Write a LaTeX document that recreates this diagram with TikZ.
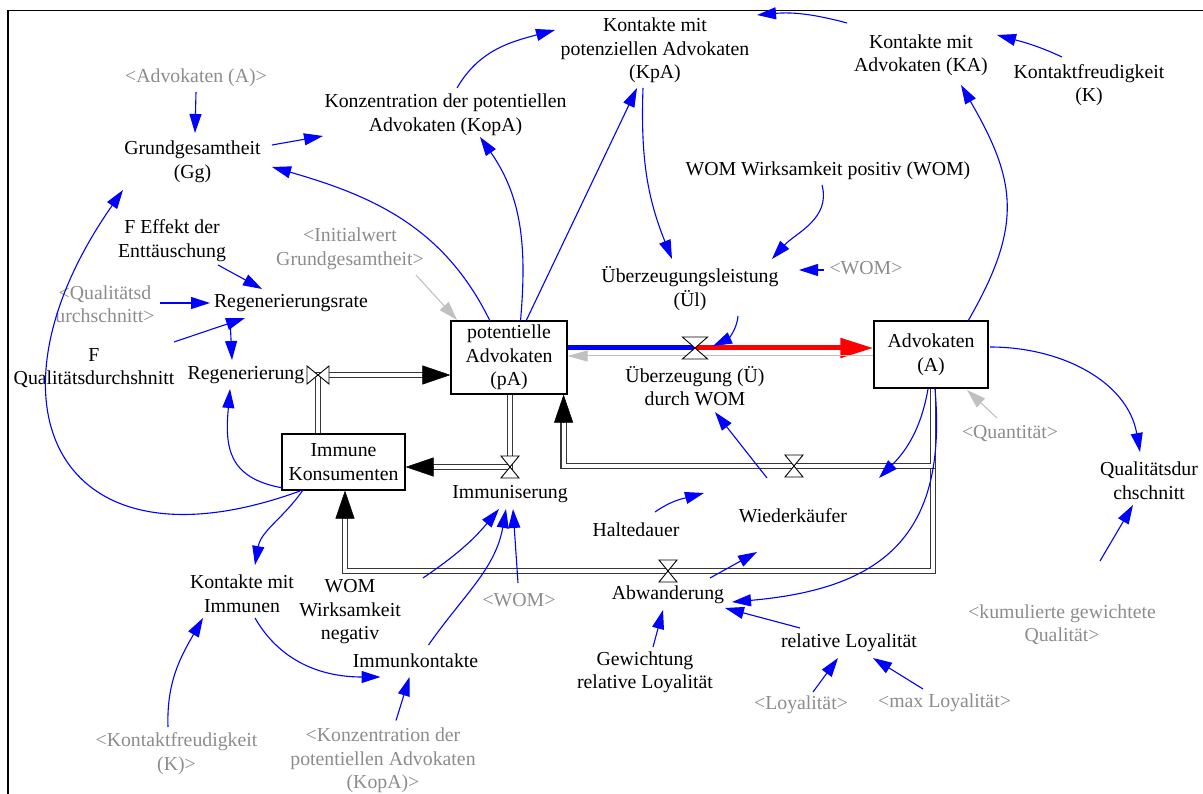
\documentclass[tikz,border=0pt]{standalone}
\usepackage{fontspec}
\setmainfont{Liberation Serif}
\usetikzlibrary{arrows.meta,calc}
\definecolor{infoblue}{RGB}{0,0,255}
\definecolor{shadowtxt}{RGB}{140,140,140}
\definecolor{shadowline}{RGB}{192,192,192}
\definecolor{pipegray}{RGB}{55,55,55}

\begin{document}
\begin{tikzpicture}[x=1pt,y=1pt,
 lbl/.style={align=center,inner sep=0pt,font=\fontsize{19.8}{23.5}\selectfont},
 shd/.style={lbl,text=shadowtxt},
 stock/.style={lbl,draw,line width=1.2pt,fill=white},
 info/.style={infoblue,line width=1.1pt,-{Triangle[length=19pt,width=12pt]}},
 ginfo/.style={shadowline,line width=1.1pt,-{Triangle[length=19pt,width=12pt]}},
 pipe/.style={draw=pipegray,line width=1.3pt,double=white,double distance=3.8pt},
 pipetip/.style={line width=0.5pt,-{Triangle[length=28pt,width=19pt]}},
 valve/.pic={\draw[fill=white,line width=0.9pt] (-9,11) -- (9,11) -- (0,0) -- cycle
   (-9,-11) -- (9,-11) -- (0,0) -- cycle;}]

\useasboundingbox (0,0) rectangle (1203,-794);
\draw[line width=1.3pt] (8,-794) -- (8,-10.5) -- (1203,-10.5);

% stocks
\node[stock,minimum width=116pt,minimum height=73pt] (pA) at (509,-357.5) {potentielle\\Advokaten\\(pA)};
\node[stock,minimum width=114pt,minimum height=67pt] (A) at (931,-354.5) {Advokaten\\(A)};
\node[stock,minimum width=123pt,minimum height=56pt] (IK) at (343.5,-462) {Immune\\Konsumenten};

% valves
\coordinate (vue) at (695,-348);
\coordinate (vim) at (510,-467);
\coordinate (vwk) at (794,-466);
\coordinate (vabw) at (668,-571);
\coordinate (vreg) at (318,-375);
\coordinate (aout) at ($(A.south)+(2,0)$);
\coordinate (kret) at ($(pA.south east)+(-4,0)$);
\coordinate (iret) at ($(IK.south)+(1.5,0)$);

% flows
\draw[pipe] (vreg |- IK.north) -- (vreg) -- ($(vreg -| pA.west)+(-27,0)$);
\draw[pipetip] ($(vreg -| pA.west)+(-28,0)$) -- (vreg -| pA.west);
\draw[pipe] (vim |- pA.south) -- (vim) -- ($(vim -| IK.east)+(27,0)$);
\draw[pipetip] ($(vim -| IK.east)+(28,0)$) -- (vim -| IK.east);
\draw[pipe] (aout) |- (vabw) -| ($(iret)+(0,-27)$);
\draw[pipetip] ($(iret)+(0,-28)$) -- (iret);
\draw[pipe] (aout) |- (vwk) -| ($(kret)+(0,-27)$);
\draw[pipetip] ($(kret)+(0,-28)$) -- (kret);
\draw[line width=5pt,infoblue] ($(pA.east)+(0,9.5)$) -- (vue);
\draw[line width=5pt,red,-{Triangle[length=33pt,width=19pt]}] (vue) -- ($(A.west)+(0,6.5)$);
\draw[shadowline,line width=1pt,-{Triangle[length=20pt,width=11pt]}] ($(A.west)+(0,-1.5)$) -- ($(pA.east)+(0,1.5)$);

\pic[xscale=1.4] at (vue) {valve};
\pic at (vim) {valve};
\pic at (vwk) {valve};
\pic at (vabw) {valve};
\pic[rotate=90] at (vreg) {valve};

% variables
\node[shd] (advA) at (196,-78) {<Advokaten (A)>};
\node[lbl] (gg) at (192.5,-162) {Grundgesamtheit\\(Gg)};
\node[lbl] (kopa) at (445.5,-114.5) {Konzentration der potentiellen\\Advokaten (KopA)};
\node[lbl] (kpa) at (655,-50.5) {Kontakte mit\\potenziellen Advokaten\\(KpA)};
\node[lbl] (ka) at (921,-55) {Kontakte mit\\Advokaten (KA)};
\node[lbl] (kf) at (1089,-85) {Kontaktfreudigkeit\\(K)};
\node[lbl] (womp) at (828,-171) {WOM Wirksamkeit positiv (WOM)};
\node[lbl] (effekt) at (172,-240.5) {F Effekt der\\Enttäuschung};
\node[shd] (initgg) at (350,-249) {<Initialwert\\Grundgesamtheit>};
\node[lbl] (uel) at (690,-288.5) {Überzeugungsleistung\\(Ül)};
\node[shd] (womg1) at (866,-268) {<WOM>};
\node[shd] (qds) at (105,-304) {<Qualitätsd\\urchschnitt>};
\node[lbl] (regrate) at (291,-303) {Regenerierungsrate};
\node[lbl] (fqd) at (94,-368) {F\\Qualitätsdurchshnitt};
\node[lbl] (regen) at (246,-375) {Regenerierung};
\node[lbl] (ue) at (695,-386) {Überzeugung (Ü)\\durch WOM};
\node[shd] (quant) at (1010,-434) {<Quantität>};
\node[lbl] (immun) at (510,-494) {Immuniserung};
\node[lbl] (qd) at (1149,-480.5) {Qualitätsdur\\chschnitt};
\node[lbl] (wk) at (793,-516) {Wiederkäufer};
\node[lbl] (halte) at (636,-530) {Haltedauer};
\node[lbl] (abw) at (668,-595) {Abwanderung};
\node[lbl] (kmi) at (242,-593.5) {Kontakte mit\\Immunen};
\node[lbl] (womneg) at (350,-612) {WOM\\Wirksamkeit\\negativ};
\node[shd] (womg2) at (519,-600) {<WOM>};
\node[shd] (kum) at (1062,-624.5) {<kumulierte gewichtete\\Qualität>};
\node[lbl] (relloy) at (849,-643) {relative Loyalität};
\node[lbl] (ikont) at (415.5,-661) {Immunkontakte};
\node[lbl] (gew) at (645,-672.5) {Gewichtung\\relative Loyalität};
\node[shd] (loy) at (801,-705) {<Loyalität>};
\node[shd] (maxloy) at (944.5,-703) {<max Loyalität>};
\node[shd] (kfg) at (176.5,-753.5) {<Kontaktfreudigkeit\\(K)>};
\node[shd] (kopag) at (383,-760.5) {<Konzentration der\\potentiellen Advokaten\\(KopA)>};

% links, upper part
\draw[info] ([shift={(0,-14)}]advA.center) -- ([shift={(2.5,29)}]gg.center);
\draw[info] ([shift={(79.5,17)}]gg.center) -- ([shift={(-122.5,-21.5)}]kopa.center);
\draw[info] ([shift={(-19,36.5)}]pA.center) to[out=116,in=-16] ([shift={(79.5,-5)}]gg.center);
\draw[info] ([shift={(11.5,36.5)}]pA.center) to[out=85,in=-55] ([shift={(34.5,-22.5)}]kopa.center);
\draw[info] ([shift={(17,36.5)}]pA.center) -- ([shift={(-18,-37.5)}]kpa.center);
\draw[info] ([shift={(11.5,26.5)}]kopa.center) to[out=60,in=195] ([shift={(-100,20.5)}]kpa.center);
\draw[info] ([shift={(-12,-37.5)}]kpa.center) to[out=-92,in=112] ([shift={(-18,29.5)}]uel.center);
\draw[info] ([shift={(-6,-14)}]womp.center) to[out=-75,in=48] ([shift={(82,29.5)}]uel.center);
\draw[info] ([shift={(-42,-2)}]womg1.center) -- ([shift={(109,18.5)}]uel.center);
\draw[info] ([shift={(-74,32)}]ka.center) to[out=165,in=5] ([shift={(102,35.5)}]kpa.center);
\draw[info] ([shift={(-27,28)}]kf.center) to[out=155,in=-15] ([shift={(76,20)}]ka.center);
\draw[info] ([shift={(37,33.5)}]A.center) to[out=60,in=-60,looseness=1.2] ([shift={(40,-30)}]ka.center);
\draw[info] ([shift={(48,-27.5)}]uel.center) to[out=-95,in=25] ([shift={(18,2)}]vue);
\draw[ginfo] ([shift={(66,-26)}]initgg.center) -- ([shift={(-52,37.5)}]pA.center);

% links, left part
\draw[info] ([shift={(46,-24.5)}]effekt.center) -- ([shift={(-29,14)}]regrate.center);
\draw[info] ([shift={(55,1)}]qds.center) -- ([shift={(-81,0)}]regrate.center);
\draw[info] ([shift={(80,26)}]fqd.center) -- ([shift={(-46,-15)}]regrate.center);
\draw[info] ([shift={(-61,-15)}]regrate.center) -- ([shift={(-14,15)}]regen.center);
\draw[info] ([shift={(-60.5,-26)}]IK.center) to[out=170,in=-95,looseness=1.3] ([shift={(-16,-14)}]regen.center);
\draw[info] ([shift={(-43.5,-29)}]IK.center) to[out=200,in=235,looseness=1.9] ([shift={(-69.5,-28)}]gg.center);
\draw[info] ([shift={(-40.5,-28)}]IK.center) to[out=235,in=80] ([shift={(13,28.5)}]kmi.center);
\draw[info] ([shift={(-8.5,26.5)}]kfg.center) to[out=92,in=240] ([shift={(-39,-24.5)}]kmi.center);
\draw[info] ([shift={(13,-24.5)}]kmi.center) to[out=-60,in=180] ([shift={(-35,-16)}]ikont.center);
\draw[info] ([shift={(13,40)}]kopag.center) -- ([shift={(-6,-16)}]ikont.center);
\draw[info] ([shift={(73,34)}]womneg.center) to[bend right=8] ([shift={(-11,-15)}]immun.center);
\draw[info] ([shift={(13,16)}]ikont.center) to[out=55,in=-100] ([shift={(-4,-15)}]immun.center);
\draw[info] ([shift={(-1,17)}]womg2.center) -- ([shift={(3,-15)}]immun.center);

% links, right part
\draw[info] ([shift={(-3,-34.5)}]A.center) to[out=-100,in=45] ([shift={(86,38)}]wk.center);
\draw[info] ([shift={(4,-34.5)}]A.center) to[out=-85,in=5,looseness=1.3] ([shift={(64,-7)}]abw.center);
\draw[info] ([shift={(59,7.5)}]A.center) to[out=0,in=100] ([shift={(-9,28.5)}]qd.center);
\draw[ginfo] ([shift={(-13,16)}]quant.center) -- ([shift={(36,-35.5)}]A.center);
\draw[info] ([shift={(-26,38)}]wk.center) -- ([shift={(20,-26)}]ue.center);
\draw[info] ([shift={(19,18)}]halte.center) to[out=35,in=195] ([shift={(-89,23)}]wk.center);
\draw[info] ([shift={(42,17)}]abw.center) -- ([shift={(-36,-36)}]wk.center);
\draw[info] ([shift={(-49,15)}]relloy.center) -- ([shift={(57,-13)}]abw.center);
\draw[info] ([shift={(8,25.5)}]gew.center) -- ([shift={(-5,-15)}]abw.center);
\draw[info] ([shift={(12,13)}]loy.center) -- ([shift={(-11,-15)}]relloy.center);
\draw[info] ([shift={(-21.5,14)}]maxloy.center) -- ([shift={(24,-15)}]relloy.center);
\draw[info] ([shift={(38,63.5)}]kum.center) -- ([shift={(-16,-24.5)}]qd.center);
\end{tikzpicture}
\end{document}
